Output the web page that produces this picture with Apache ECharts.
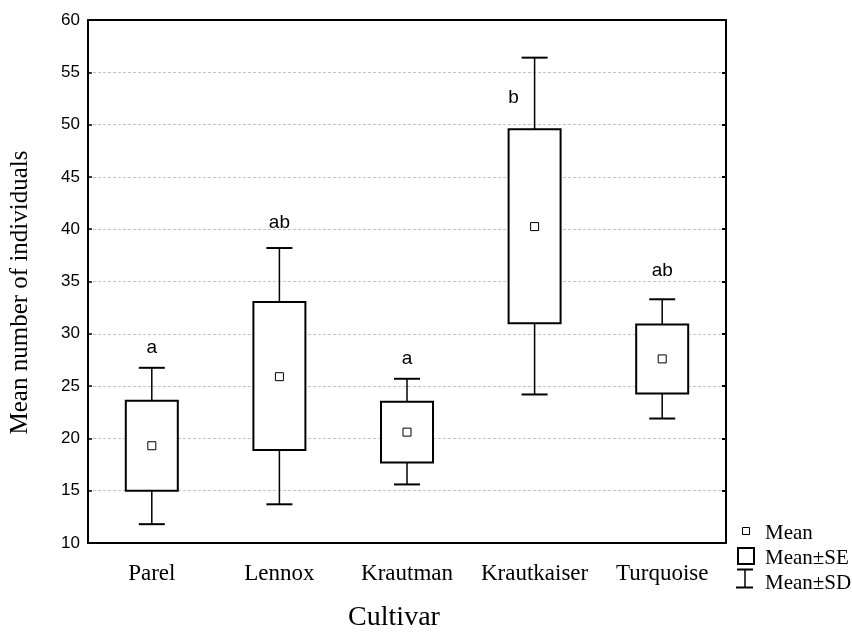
<!DOCTYPE html>
<html>
<head>
<meta charset="utf-8">
<script src="https://cdn.jsdelivr.net/npm/echarts@6/dist/echarts.min.js"></script>
<style>
  html, body { margin: 0; padding: 0; background: #fff; }
  #chart { width: 852px; height: 632px; }
</style>
</head>
<body>
<div id="chart"></div>
<script>
const chart = echarts.init(document.getElementById("chart"));

const cultivars = ["Parel", "Lennox", "Krautman", "Krautkaiser", "Turquoise"];
const means  = [19.3, 25.9, 20.6, 40.25, 27.6];
const seLow  = [15.0, 18.9, 17.7, 31.0, 24.3];
const seHigh = [23.6, 33.05, 23.5, 49.55, 30.9];
const sdLow  = [11.8, 13.7, 15.6, 24.2, 21.9];
const sdHigh = [26.75, 38.2, 25.7, 56.4, 33.3];
const groupLetters = ["a", "ab", "a", "b", "ab"];
const letterY = [28.7, 40.6, 27.6, 52.6, 36.0];
const letterOffsetX = [0, 0, 0, -21, 0];

const SERIF = "Liberation Serif, Times New Roman, serif";
const SANS = "Liberation Sans, Arial, sans-serif";

const boxData = cultivars.map((c, i) => [i, sdLow[i], seLow[i], seHigh[i], sdHigh[i]]);

function renderBox(params, api) {
  const x = api.value(0);
  const pLow = api.coord([x, api.value(1)]);
  const pSeLow = api.coord([x, api.value(2)]);
  const pSeHigh = api.coord([x, api.value(3)]);
  const pHigh = api.coord([x, api.value(4)]);
  const cx = pLow[0];
  const boxW = 52, capW = 26;
  const line = { stroke: "#000", lineWidth: 1.5 };
  return {
    type: "group",
    children: [
      { type: "line", shape: { x1: cx, y1: pHigh[1], x2: cx, y2: pSeHigh[1] }, style: line },
      { type: "line", shape: { x1: cx, y1: pSeLow[1], x2: cx, y2: pLow[1] }, style: line },
      { type: "line", shape: { x1: cx - capW / 2, y1: pHigh[1], x2: cx + capW / 2, y2: pHigh[1] }, style: { stroke: "#000", lineWidth: 2 } },
      { type: "line", shape: { x1: cx - capW / 2, y1: pLow[1], x2: cx + capW / 2, y2: pLow[1] }, style: { stroke: "#000", lineWidth: 2 } },
      { type: "rect", shape: { x: cx - boxW / 2, y: pSeHigh[1], width: boxW, height: pSeLow[1] - pSeHigh[1] },
        style: { fill: "#fff", stroke: "#000", lineWidth: 2 } }
    ]
  };
}

chart.setOption({
  animation: false,
  backgroundColor: "#fff",
  grid: { left: 88, right: 126, top: 20, bottom: 89, containLabel: false, outerBoundsMode: "none" },
  xAxis: [{
    type: "category",
    data: cultivars,
    position: "bottom",
    name: "Cultivar",
    nameLocation: "middle",
    nameGap: 61,
    nameTextStyle: { fontFamily: SERIF, fontSize: 28, color: "#000", padding: [0, 26, 0, 0] },
    axisLine: { lineStyle: { color: "#000", width: 2 } },
    axisTick: { alignWithLabel: true, inside: true, length: 5, lineStyle: { color: "#000", width: 2 } },
    axisLabel: { interval: 0, fontFamily: SERIF, fontSize: 23, color: "#000", margin: 19 },
    splitLine: { show: false }
  }, {
    type: "category",
    data: cultivars,
    position: "top",
    axisLine: { lineStyle: { color: "#000", width: 2 } },
    axisTick: { alignWithLabel: true, inside: true, length: 5, lineStyle: { color: "#000", width: 2 } },
    axisLabel: { show: false }
  }],
  yAxis: [{
    type: "value",
    min: 10,
    max: 60,
    interval: 5,
    name: "Mean number of individuals",
    nameLocation: "middle",
    nameGap: 55,
    nameTextStyle: { fontFamily: SERIF, fontSize: 25, color: "#000", padding: [0, 22, 0, 0] },
    axisLine: { show: true, lineStyle: { color: "#000", width: 2 } },
    axisTick: { show: true, inside: true, length: 4, lineStyle: { color: "#000", width: 1.5 } },
    axisLabel: { fontFamily: SANS, fontSize: 17, color: "#000", margin: 8 },
    splitLine: { show: true, lineStyle: { color: "#c4c4c4", type: [3, 2], width: 1 } }
  }, {
    type: "value",
    min: 10,
    max: 60,
    interval: 5,
    position: "right",
    axisLine: { show: true, lineStyle: { color: "#000", width: 2 } },
    axisTick: { show: true, inside: true, length: 4, lineStyle: { color: "#000", width: 2 } },
    axisLabel: { show: false },
    splitLine: { show: false }
  }],
  series: [{
    type: "custom",
    name: "Mean±SE",
    renderItem: renderBox,
    data: boxData,
    z: 2
  }, {
    type: "scatter",
    name: "Mean",
    data: means.map((m, i) => [i, m]),
    symbol: "rect",
    symbolSize: 8,
    itemStyle: { color: "#fff", borderColor: "#000", borderWidth: 1, opacity: 1 },
    z: 3
  }, {
    type: "scatter",
    name: "letters",
    data: letterY.map((v, i) => ({
      value: [i, v],
      label: { offset: [letterOffsetX[i], 0] }
    })),
    symbolSize: 0,
    itemStyle: { opacity: 1 },
    label: {
      show: true,
      position: "inside",
      formatter: p => groupLetters[p.dataIndex],
      fontFamily: SANS,
      fontSize: 19,
      color: "#000"
    },
    z: 4
  }],
  graphic: [
    { type: "rect", left: 742, top: 527, shape: { width: 7, height: 7 }, style: { fill: "#fff", stroke: "#000", lineWidth: 1 } },
    { type: "text", left: 765, top: 523, style: { text: "Mean", font: "21px " + SERIF, fill: "#000" } },
    { type: "rect", left: 737, top: 547, shape: { width: 16, height: 16 }, style: { fill: "#fff", stroke: "#000", lineWidth: 2 } },
    { type: "text", left: 765, top: 548, style: { text: "Mean±SE", font: "21px " + SERIF, fill: "#000" } },
    { type: "line", shape: { x1: 737, y1: 569.5, x2: 753, y2: 569.5 }, style: { stroke: "#000", lineWidth: 2 } },
    { type: "line", shape: { x1: 745, y1: 569.5, x2: 745, y2: 587.5 }, style: { stroke: "#000", lineWidth: 1.5 } },
    { type: "line", shape: { x1: 736, y1: 587.5, x2: 753, y2: 587.5 }, style: { stroke: "#000", lineWidth: 2 } },
    { type: "text", left: 765, top: 573, style: { text: "Mean±SD", font: "21px " + SERIF, fill: "#000" } }
  ]
});
</script>
</body>
</html>
